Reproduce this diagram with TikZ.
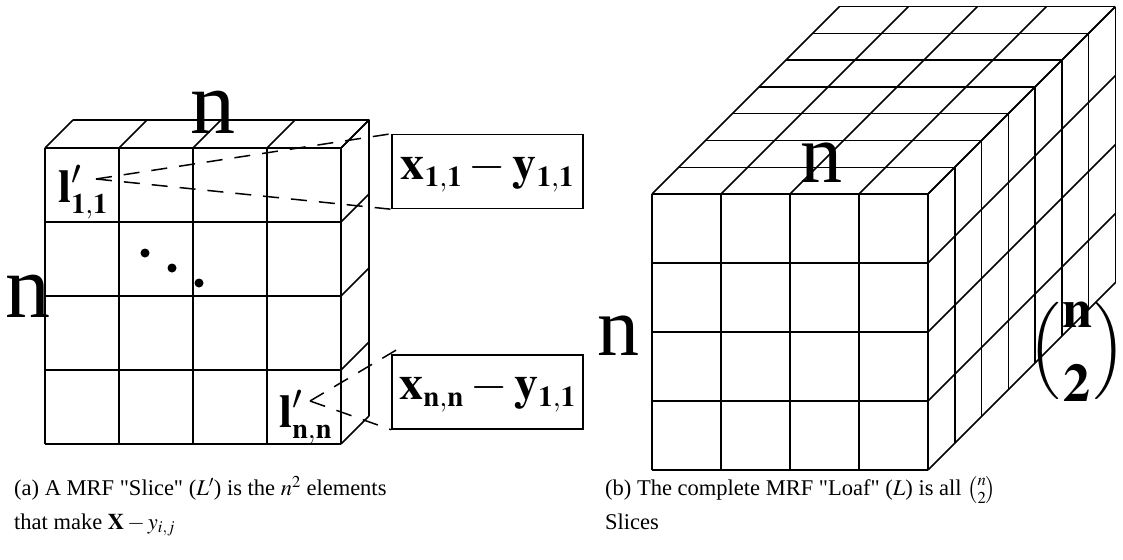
\documentclass[tikz,border=0pt]{standalone}
\usepackage{mathptmx}
\usepackage{amsmath}
\usepackage{fontspec}
\setmainfont{Liberation Serif}
\usetikzlibrary{positioning}
\newcommand{\bigsize}[1]{\fontsize{#1}{#1}\selectfont}

\begin{document}
\begin{tikzpicture}[
    x=1pt, y=-1pt,
    slab/.style={line width=1.5pt, line join=round},
    guide/.style={line width=1.5pt, dash pattern=on 16pt off 12pt},
    valbox/.style={draw, line width=1.5pt, minimum width=191pt, minimum height=74pt, inner sep=0pt, font=\bigsize{48}},
    dimlabel/.style={anchor=base, inner sep=0pt, font=\bigsize{90}},
    cubelabel/.style={anchor=base, inner sep=0pt, font=\bigsize{84}},
    cellname/.style={anchor=base west, inner sep=0pt, font=\bigsize{47}},
    caption/.style={anchor=north west, align=left, inner sep=0pt, font=\fontsize{22.5}{34}\selectfont},
]
    \useasboundingbox (0,0) rectangle (1123,559);

    % (a) one slice
    \foreach \i in {0,...,4} {
        \draw[slab] (45,{148+74*\i}) -- (341,{148+74*\i});
        \draw[slab] ({45+74*\i},148) -- ({45+74*\i},444);
        \draw[slab] ({45+74*\i},148) -- ++(28,-28);
        \draw[slab] (341,{148+74*\i}) -- ++(28,-28);
    }
    \draw[slab] (73,120) -- (369,120) -- (369,416);
    \fill (145,253) circle (4.5) (172,268) circle (4.5) (199,283) circle (4.5);

    \node[dimlabel] (ntop) at (213,133) {n};
    \node[dimlabel] (nleft) at (28,317) {n};
    \node[cellname] (l11) at (58,202) {$\mathbf{l}'_{\scriptscriptstyle\mathbf{1,1}}$};
    \node[cellname] (lnn) at (279,427) {$\mathbf{l}'_{\scriptscriptstyle\mathbf{n,n}}$};

    \node[valbox] (v11) at (487.5,171.5) {$\mathbf{x}_{\scriptscriptstyle\mathbf{1,1}}-\mathbf{y}_{\scriptscriptstyle\mathbf{1,1}}$};
    \node[valbox] (vnn) at (487.5,392) {$\mathbf{x}_{\scriptscriptstyle\mathbf{n,n}}-\mathbf{y}_{\scriptscriptstyle\mathbf{1,1}}$};

    \coordinate (s11) at (96,179);
    \coordinate (snn) at (310,401);
    \coordinate (tnn) at (398,349);
    \draw[guide] (s11) -- (v11.north west);
    \draw[guide] (s11) -- (v11.south west);
    \draw[guide] (snn) -- (tnn);
    \draw[guide] (snn) -- (vnn.south west);

    % (b) the whole loaf
    \foreach \i in {0,...,4} {
        \draw[slab] (652,{194+69*\i}) -- (928,{194+69*\i});
        \draw[slab] ({652+69*\i},194) -- ({652+69*\i},470);
        \draw[slab] ({652+69*\i},194) -- ++(187.25,-187.25);
        \draw[slab] (928,{194+69*\i}) -- ++(187.25,-187.25);
    }
    \foreach \k in {1,...,7} {
        \draw[slab] ({652+26.75*\k},{194-26.75*\k}) -- ({928+26.75*\k},{194-26.75*\k});
        \draw[slab] ({928+26.75*\k},{194-26.75*\k}) -- ({928+26.75*\k},{470-26.75*\k});
    }

    \node[cubelabel] (nback) at (821,182) {n};
    \node[cubelabel] (nside) at (618,355) {n};
    \node[inner sep=0pt, font=\bigsize{54}] (pairs) at (1077,352) {$\Bigl(\genfrac{}{}{0pt}{0}{\mathbf{n}}{\mathbf{2}}\Bigr)$};

    % captions
    \node[caption] (capa) at (14,476) {(a) A MRF \textquotedbl Slice\textquotedbl{} ($L'$) is the $n^2$ elements\\that make $\mathbf{X}-y_{i,j}$};
    \node[caption] (capb) at (605,476) {(b) The complete MRF \textquotedbl Loaf\textquotedbl{} ($L$) is all $\binom{n}{2}$\\Slices};
\end{tikzpicture}
\end{document}
